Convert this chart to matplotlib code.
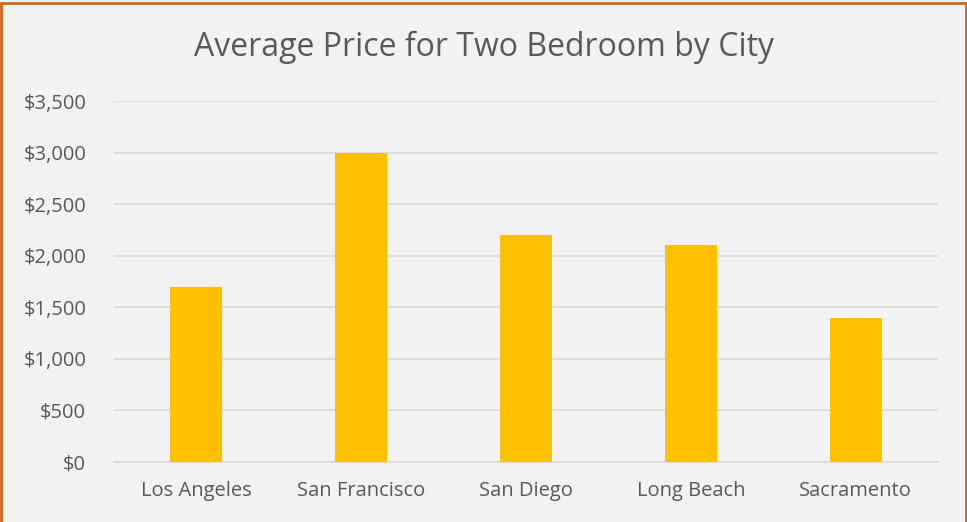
import matplotlib
matplotlib.use("Agg")
import matplotlib.pyplot as plt
from matplotlib.patches import Rectangle
from matplotlib.ticker import FuncFormatter

cities = ["Los Angeles", "San Francisco", "San Diego", "Long Beach", "Sacramento"]
prices = [1700, 3000, 2200, 2100, 1400]
yticks = [0, 500, 1000, 1500, 2000, 2500, 3000, 3500]

BG = "#F2F2F2"; BAR = "#FFC000"; TXT = "#595959"; GRID = "#D9D9D9"
plt.rcParams["font.family"] = ["Open Sans", "DejaVu Sans"]

fig = plt.figure(figsize=(9.67, 5.22), dpi=100, facecolor=BG)
ax = fig.add_axes([114/967, 1-462/522, (938-114)/967, (462-101)/522])
ax.set_facecolor(BG)

x = range(len(cities))
ax.bar(x, prices, width=0.315, color=BAR, zorder=3)
ax.set_xlim(-0.5, len(cities)-0.5)
ax.set_ylim(0, 3500)
ax.set_yticks(yticks)
ax.yaxis.set_major_formatter(FuncFormatter(lambda v, p: f"${v:,.0f}"))
ax.set_xticks(list(x))
ax.set_xticklabels(cities)
ax.grid(axis="y", color=GRID, lw=1.2, zorder=0)
for s in ["left", "right", "top"]:
    ax.spines[s].set_visible(False)
ax.spines["bottom"].set_color(GRID)
ax.spines["bottom"].set_linewidth(1.2)
ax.tick_params(axis="y", length=0, pad=20, labelsize=14.5, labelcolor=TXT)
ax.tick_params(axis="x", length=0, pad=14, labelsize=14.5, labelcolor=TXT)

fig.text(0.5, 1-47/522, "Average Price for Two Bedroom by City",
         ha="center", va="center", fontsize=23, color=TXT)

fig.patches.append(Rectangle((0.001, -0.01), 0.998, 1.005, transform=fig.transFigure,
                             fill=False, edgecolor="#D0651E", lw=2, zorder=10))

fig.savefig("out.png", dpi=100, facecolor=BG)
